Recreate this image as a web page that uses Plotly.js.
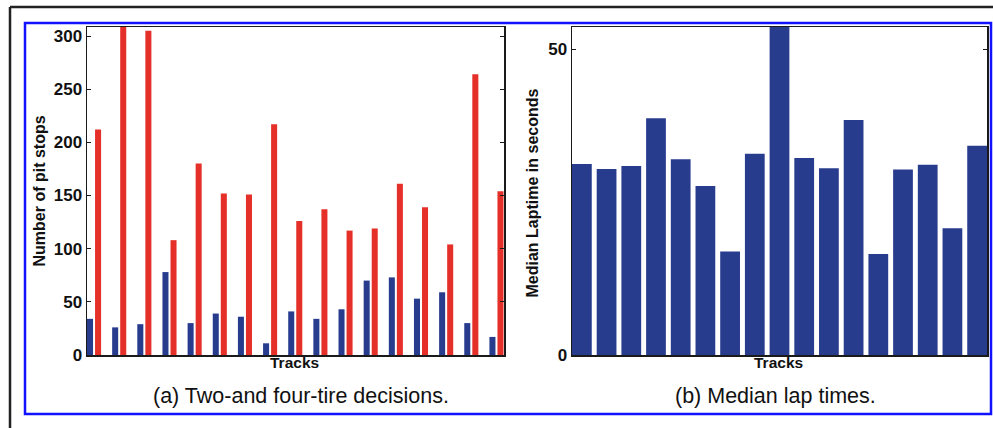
<!DOCTYPE html>
<html>
<head>
<meta charset="utf-8">
<script src="https://cdn.plot.ly/plotly-3.0.1.min.js"></script>
<style>
  html, body { margin: 0; padding: 0; background: #ffffff; }
  #chart { width: 993px; height: 428px; }
</style>
</head>
<body>
<div id="chart"></div>
<script>
// ---- data ----
const tracks = [1, 2, 3, 4, 5, 6, 7, 8, 9, 10, 11, 12, 13, 14, 15, 16, 17];
const twoTireStops = [34, 26, 29, 78, 30, 39, 36, 11, 41, 34, 43, 70, 73, 53, 59, 30, 17];
const fourTireStops = [212, 310, 305, 108, 180, 152, 151, 217, 126, 137, 117, 119, 161, 139, 104, 264, 154];
const medianLaptime = [31.2, 30.4, 30.9, 38.7, 32.0, 27.6, 16.9, 32.9, 55, 32.2, 30.5, 38.4, 16.5, 30.3, 31.1, 20.7, 34.2];
const pitTicks = [0, 50, 100, 150, 200, 250, 300];
const lapTicks = [0, 50];

// ---- layout helpers (pixel -> paper) ----
const W = 993, H = 428;
const px = v => v / W;
const py = v => 1 - v / H;

const FONT = '"Liberation Sans", Arial, Helvetica, sans-serif';
const BLUE = '#283c8e';
const RED = '#e5302a';
const AXIS = '#1a1a1a';

const traces = [
  { type: 'bar', x: tracks, y: twoTireStops, xaxis: 'x', yaxis: 'y',
    width: 0.24, offset: -0.28, marker: { color: BLUE, line: { width: 0 } }, hoverinfo: 'y' },
  { type: 'bar', x: tracks, y: fourTireStops, xaxis: 'x', yaxis: 'y',
    width: 0.24, offset: 0.04, marker: { color: RED, line: { width: 0 } }, hoverinfo: 'y' },
  { type: 'bar', x: tracks, y: medianLaptime, xaxis: 'x2', yaxis: 'y2',
    width: 0.8, offset: -0.4, marker: { color: BLUE, line: { width: 0 } }, hoverinfo: 'y' }
];

const axisCommon = {
  showline: true, linecolor: AXIS, linewidth: 1.5, zeroline: false, showgrid: false
};

const tickFont = { family: FONT, size: 17, color: '#111', weight: 'bold' };

const layout = {
  width: W, height: H,
  margin: { l: 0, r: 0, t: 0, b: 0 },
  paper_bgcolor: '#ffffff', plot_bgcolor: '#ffffff',
  showlegend: false,
  barmode: 'overlay',
  font: { family: FONT, color: '#111' },
  xaxis: Object.assign({}, axisCommon, {
    domain: [px(87), px(504)], range: [0.72, 17.3], anchor: 'y',
    mirror: true, ticks: '', showticklabels: false, fixedrange: true
  }),
  yaxis: Object.assign({}, axisCommon, {
    domain: [py(355), py(27)], range: [0, 308.5], anchor: 'x',
    mirror: 'ticks', ticks: 'inside', ticklen: 4, tickwidth: 1, tickcolor: AXIS,
    tickmode: 'array', tickvals: pitTicks, ticktext: pitTicks.map(String),
    tickfont: tickFont, fixedrange: true
  }),
  xaxis2: Object.assign({}, axisCommon, {
    domain: [px(572), px(987)], range: [0.6, 17.4], anchor: 'y2',
    mirror: true, ticks: '', showticklabels: false, fixedrange: true
  }),
  yaxis2: Object.assign({}, axisCommon, {
    domain: [py(355), py(27)], range: [0, 53.6], anchor: 'x2',
    mirror: 'ticks', ticks: 'inside', ticklen: 4, tickwidth: 1, tickcolor: AXIS,
    tickmode: 'array', tickvals: lapTicks, ticktext: lapTicks.map(String),
    tickfont: tickFont, fixedrange: true
  }),
  shapes: [
    // outer dark frame (left + top edges)
    { type: 'line', xref: 'paper', yref: 'paper', x0: px(10), x1: px(10), y0: py(7), y1: py(428),
      line: { color: '#222', width: 2.5 } },
    { type: 'line', xref: 'paper', yref: 'paper', x0: px(10), x1: px(993), y0: py(7), y1: py(7),
      line: { color: '#222', width: 2.5 } },
    // blue frame
    { type: 'rect', xref: 'paper', yref: 'paper', x0: px(25), x1: px(991), y0: py(414), y1: py(23),
      line: { color: '#1212ff', width: 2.5 } }
  ],
  annotations: [
    { text: 'Number of pit stops', xref: 'paper', yref: 'paper', x: px(38.5), y: py(191),
      textangle: -90, showarrow: false, xanchor: 'center', yanchor: 'middle',
      font: { family: FONT, size: 16, color: '#111', weight: 'bold' } },
    { text: 'Median Laptime in seconds', xref: 'paper', yref: 'paper', x: px(531.5), y: py(193),
      textangle: -90, showarrow: false, xanchor: 'center', yanchor: 'middle',
      font: { family: FONT, size: 16, color: '#111', weight: 'bold' } },
    { text: 'Tracks', xref: 'paper', yref: 'paper', x: px(294), y: py(362),
      showarrow: false, xanchor: 'center', yanchor: 'middle',
      font: { family: FONT, size: 15.5, color: '#111', weight: 'bold' } },
    { text: 'Tracks', xref: 'paper', yref: 'paper', x: px(778), y: py(362),
      showarrow: false, xanchor: 'center', yanchor: 'middle',
      font: { family: FONT, size: 15.5, color: '#111', weight: 'bold' } },
    { text: '(a) Two-and four-tire decisions.', xref: 'paper', yref: 'paper', x: px(300.5), y: py(396),
      showarrow: false, xanchor: 'center', yanchor: 'middle',
      font: { family: FONT, size: 21.5, color: '#111' } },
    { text: '(b) Median lap times.', xref: 'paper', yref: 'paper', x: px(775), y: py(396),
      showarrow: false, xanchor: 'center', yanchor: 'middle',
      font: { family: FONT, size: 21.5, color: '#111' } }
  ]
};

Plotly.newPlot('chart', traces, layout, { displayModeBar: false, staticPlot: true });
</script>
</body>
</html>
